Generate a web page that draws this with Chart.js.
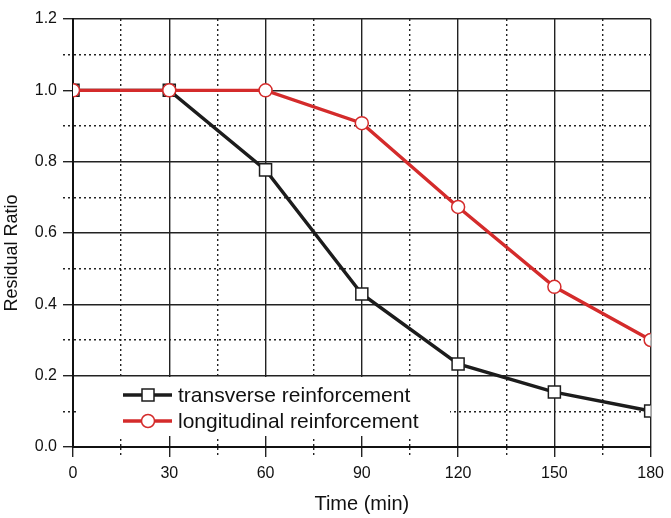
<!DOCTYPE html>
<html>
<head>
<meta charset="utf-8">
<script src="https://cdn.jsdelivr.net/npm/chart.js@4.4.1/dist/chart.umd.min.js"></script>
<style>
  html, body { margin: 0; padding: 0; background: #ffffff; }
  #wrap { width: 671px; height: 518px; }
</style>
</head>
<body>
<div id="wrap"><canvas id="chart" width="671" height="518"></canvas></div>
<script>
// Exposure time (min)
const timeMin = [0, 30, 60, 90, 120, 150, 180];
// Residual ratio for each reinforcement type
const transverse = [1.0, 1.0, 0.777, 0.429, 0.233, 0.154, 0.101];
const longitudinal = [1.0, 1.0, 1.0, 0.908, 0.673, 0.449, 0.300];
const seriesNames = ['transverse reinforcement', 'longitudinal reinforcement'];

const FONT = '"Liberation Sans", Arial, Helvetica, sans-serif';

const majorGrid = (ctx, step) => {
  if (!ctx.tick) return true;
  const v = Math.round(ctx.tick.value * 1000);
  return v % step === 0;
};

// Legend drawn inside the plot area, on a white panel over the grid
const innerLegend = {
  id: 'innerLegend',
  afterDatasetsDraw(chart) {
    const c = chart.ctx;
    const box = { x: 79, y: 377, w: 371, h: 59 };
    c.save();
    c.fillStyle = '#ffffff';
    c.fillRect(box.x, box.y, box.w, box.h);
    chart.data.datasets.forEach((ds, i) => {
      const y = 395 + i * 26;
      c.strokeStyle = ds.borderColor;
      c.lineWidth = ds.borderWidth;
      c.beginPath();
      c.moveTo(123, y);
      c.lineTo(172, y);
      c.stroke();
      c.fillStyle = '#ffffff';
      c.strokeStyle = ds.pointBorderColor;
      c.lineWidth = 1.5;
      c.beginPath();
      if (ds.pointStyle === 'rect') {
        c.rect(142, y - 6, 12, 12);
      } else {
        c.arc(148, y, 6.5, 0, Math.PI * 2);
      }
      c.fill();
      c.stroke();
      c.fillStyle = '#111111';
      c.font = '21px ' + FONT;
      c.textBaseline = 'middle';
      c.textAlign = 'left';
      c.fillText(ds.label, 178, y + 1);
    });
    c.restore();
  }
};

new Chart(document.getElementById('chart'), {
  type: 'line',
  data: {
    labels: timeMin,
    datasets: [
      {
        label: seriesNames[0],
        data: timeMin.map((t, i) => ({ x: t, y: transverse[i] })),
        borderColor: '#1c1c1c',
        borderWidth: 3.4,
        pointStyle: 'rect',
        pointRadius: 8.5,
        pointBorderWidth: 1.5,
        pointBorderColor: '#1c1c1c',
        pointBackgroundColor: '#ffffff',
        tension: 0,
        clip: 0,
        order: 1
      },
      {
        label: seriesNames[1],
        data: timeMin.map((t, i) => ({ x: t, y: longitudinal[i] })),
        borderColor: '#d42b2b',
        borderWidth: 3.4,
        pointStyle: 'circle',
        pointRadius: 6.5,
        pointBorderWidth: 1.5,
        pointBorderColor: '#d42b2b',
        pointBackgroundColor: '#ffffff',
        tension: 0,
        clip: 0,
        order: 0
      }
    ]
  },
  options: {
    responsive: false,
    animation: false,
    events: [],
    layout: { padding: { top: 19, right: 18, left: 0, bottom: 0 } },
    plugins: {
      legend: { display: false },
      tooltip: { enabled: false }
    },
    scales: {
      x: {
        type: 'linear',
        min: 0,
        max: 180,
        afterFit: (s) => { s.height = 71; },
        ticks: {
          stepSize: 15,
          autoSkip: false,
          maxRotation: 0,
          padding: 7,
          color: '#111111',
          font: { family: FONT, size: 16 },
          callback: (v) => (Math.round(v) % 30 === 0 ? String(Math.round(v)) : '')
        },
        grid: {
          color: '#222222',
          lineWidth: 1.4,
          tickLength: 10,
          tickColor: '#222222',
          tickWidth: 1.4,
          tickBorderDash: (ctx) => (majorGrid(ctx, 30000) ? [] : [2, 3])
        },
        border: {
          display: true,
          color: '#111111',
          width: 2,
          dash: (ctx) => (majorGrid(ctx, 30000) ? [] : [2, 3])
        },
        title: {
          display: true,
          text: 'Time (min)',
          color: '#111111',
          font: { family: FONT, size: 20 },
          padding: { top: 0, bottom: 2 }
        }
      },
      y: {
        type: 'linear',
        min: 0,
        max: 1.2,
        afterFit: (s) => { s.width = 73; },
        ticks: {
          stepSize: 0.1,
          autoSkip: false,
          padding: 6,
          color: '#111111',
          font: { family: FONT, size: 16 },
          callback: (v) => (Math.round(v * 10) % 2 === 0 ? v.toFixed(1) : '')
        },
        grid: {
          color: '#222222',
          lineWidth: 1.4,
          tickLength: 10,
          tickColor: '#222222',
          tickWidth: 1.4,
          tickBorderDash: (ctx) => (majorGrid(ctx, 200) ? [] : [2, 3])
        },
        border: {
          display: true,
          color: '#111111',
          width: 2,
          dash: (ctx) => (majorGrid(ctx, 200) ? [] : [2, 3])
        },
        title: {
          display: true,
          text: 'Residual Ratio        ',
          color: '#111111',
          font: { family: FONT, size: 18 },
          padding: { top: 1, bottom: 0 }
        }
      }
    }
  },
  plugins: [innerLegend]
});
</script>
</body>
</html>
